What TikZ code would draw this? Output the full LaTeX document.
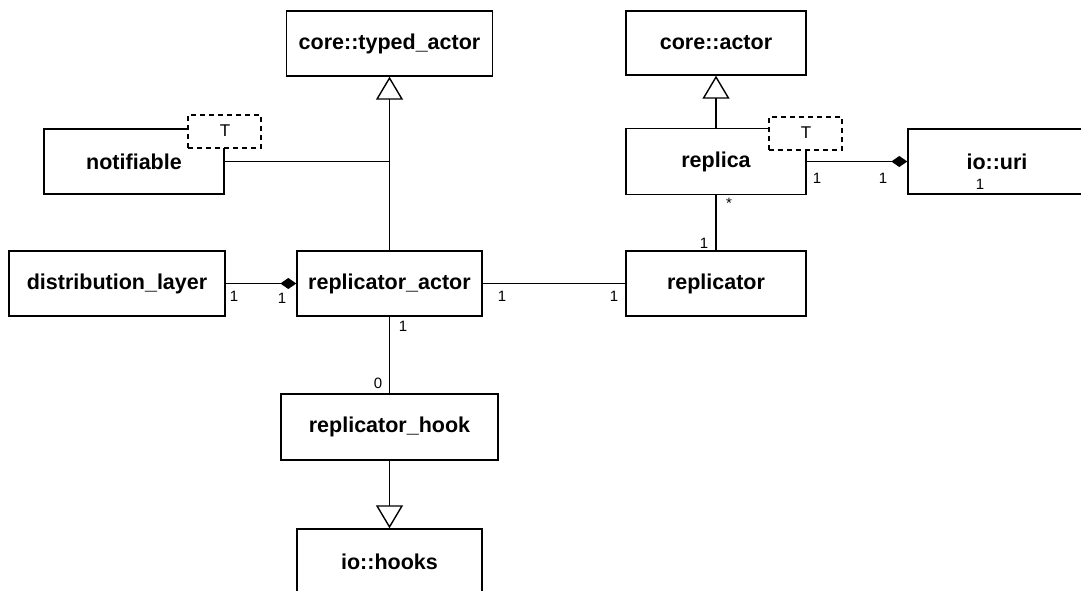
\documentclass[tikz,border=0pt]{standalone}
\usepackage{fontspec}
\setmainfont{Liberation Sans}
\usetikzlibrary{arrows.meta}
\begin{document}
\begin{tikzpicture}[x=1pt,y=-1pt,
  cls/.style={draw,line width=1.4pt,fill=white,font=\fontsize{21.5}{24}\selectfont\bfseries,inner sep=0pt},
  tparam/.style={draw,dashed,dash pattern=on 5pt off 4pt,line width=1.4pt,fill=white,minimum width=73pt,minimum height=33pt,inner sep=0pt},
  conn/.style={line width=1.5pt},
  inh/.style={conn,-{Triangle[open,length=23pt,width=27pt,line width=1.4pt]}},
  comp/.style={conn,-{Diamond[length=16pt,width=11pt]}},
  mult/.style={font=\fontsize{15}{17}\selectfont,inner sep=0pt},
  tlab/.style={font=\fontsize{17}{19}\selectfont,inner sep=0pt}]
\useasboundingbox (0,0) rectangle (1081,591);
\clip (0,0) rectangle (1081,591);
% classes
\node[cls,minimum width=206pt,minimum height=65pt] (typed) at (389.5,43.5) {core::typed\_actor};
\node[cls,minimum width=180pt,minimum height=65pt] (notif) at (134,161.5) {notifiable};
\node[tparam] (tnotif) at (224.5,131.5) {};
\node[tlab] (tn) at (225,131) {T};
\node[cls,minimum width=216pt,minimum height=65pt] (dist) at (117,283.5) {distribution\_layer};
\node[cls,minimum width=185pt,minimum height=65pt] (ract) at (389.5,283.5) {replicator\_actor};
\node[cls,minimum width=217pt,minimum height=66pt] (hook) at (389.5,427) {replicator\_hook};
\node[cls,minimum width=185pt,minimum height=65pt,text depth=0pt] (hooks) at (389.5,561.5) {io::hooks};
\node[cls,minimum width=180pt,minimum height=64pt] (actor) at (716,43) {core::actor};
\node[cls,minimum width=180pt,minimum height=66pt] (replica) at (716,161.5) {replica};
\node[tparam] (trep) at (805.5,133.5) {};
\node[tlab] (tr) at (806,133) {T};
\node[cls,minimum width=178pt,minimum height=65pt] (uri) at (997,161.5) {io::uri};
\node[cls,minimum width=180pt,minimum height=65pt] (repl) at (716,283.5) {replicator};
% connectors
\draw[inh] (ract.north) -- (typed.south);
\draw[conn] (notif.east) -- (notif.east -| ract.north);
\draw[inh] (replica.north) -- (actor.south);
\draw[comp] (replica.east) -- (uri.west);
\draw[comp] (dist.east) -- (ract.west);
\draw[conn] (ract.east) -- (repl.west);
\draw[conn] (replica.south) -- (repl.north);
\draw[conn] (ract.south) -- (hook.north);
\draw[inh] (hook.south) -- (hooks.north);
% multiplicities
\node[mult] (m1) at (234,296) {1};
\node[mult] (m2) at (282,298) {1};
\node[mult] (m3) at (502,296) {1};
\node[mult] (m4) at (614,296) {1};
\node[mult] (m5) at (729,203) {*};
\node[mult] (m6) at (704,243) {1};
\node[mult] (m7) at (817,178) {1};
\node[mult] (m8) at (883,178) {1};
\node[mult] (m9) at (980,184) {1};
\node[mult] (m10) at (403,326) {1};
\node[mult] (m11) at (378,383) {0};
\end{tikzpicture}
\end{document}
